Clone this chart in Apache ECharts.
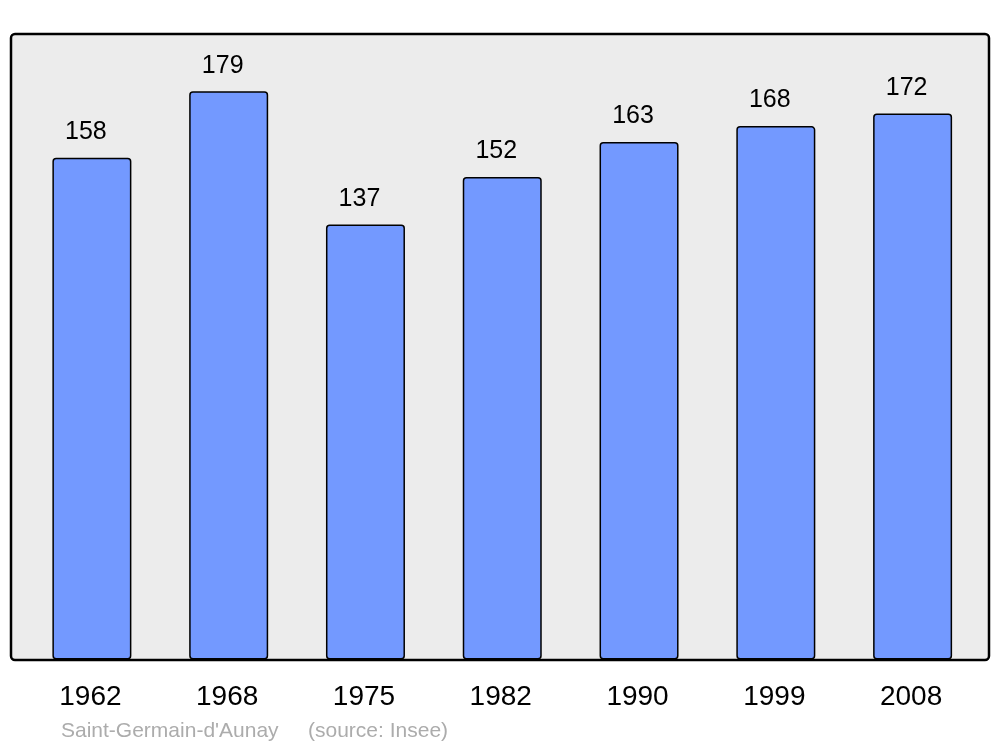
<!DOCTYPE html>
<html>
<head>
<meta charset="utf-8">
<title>Saint-Germain-d'Aunay</title>
<script src="https://cdn.jsdelivr.net/npm/echarts@6/dist/echarts.min.js"></script>
<style>
  html, body { margin: 0; padding: 0; background: #fff; }
  #chart { width: 1000px; height: 747px; }
</style>
</head>
<body>
<div id="chart"></div>
<script>
// population by census year
var years = ['1962', '1968', '1975', '1982', '1990', '1999', '2008'];
var population = [158, 179, 137, 152, 163, 168, 172];
var placeName = "Saint-Germain-d'Aunay";
var sourceText = '(source: Insee)';

var chart = echarts.init(document.getElementById('chart'));
var font = '"Liberation Sans", Arial, sans-serif';

chart.setOption({
  animation: false,
  backgroundColor: '#ffffff',
  grid: {
    left: 23.5,
    right: 19,
    top: 34,
    bottom: 87.5
  },
  graphic: [
    {
      type: 'rect',
      z: 0,
      shape: { x: 11, y: 34, width: 978, height: 626, r: 4 },
      style: { fill: '#ececec', stroke: '#000', lineWidth: 2.5 }
    },
    {
      type: 'text',
      left: 61,
      top: 721,
      style: { text: placeName, fill: '#acacac', fontSize: 21, fontFamily: font }
    },
    {
      type: 'text',
      left: 308,
      top: 721,
      style: { text: sourceText, fill: '#acacac', fontSize: 21, fontFamily: font }
    }
  ],
  xAxis: {
    type: 'category',
    data: years,
    axisLine: { show: false },
    axisTick: { show: false },
    axisLabel: {
      margin: 24,
      fontSize: 28,
      color: '#000',
      fontFamily: font,
      padding: [0, 3, 0, 0]
    }
  },
  yAxis: {
    type: 'value',
    min: 0,
    max: 197,
    show: false,
    splitLine: { show: false }
  },
  series: [{
    type: 'bar',
    z: 2,
    data: population,
    barWidth: 79,
    itemStyle: {
      color: '#7399ff',
      borderColor: '#000',
      borderWidth: 1.5,
      borderRadius: 3
    },
    label: {
      show: true,
      position: 'top',
      distance: 13,
      offset: [-6, 0],
      fontSize: 25,
      color: '#000',
      fontFamily: font
    }
  }]
});
</script>
</body>
</html>
